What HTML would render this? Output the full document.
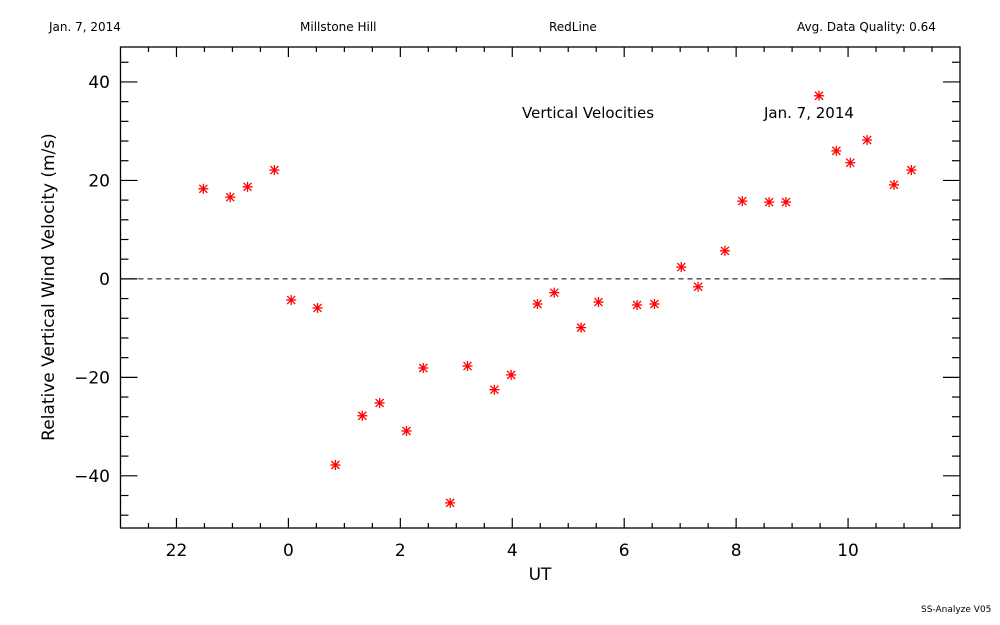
<!DOCTYPE html>
<html><head><meta charset="utf-8"><style>
body{margin:0;background:#fff}
svg{display:block;font-family:"DejaVu Sans","Liberation Sans",sans-serif}
</style></head><body>
<svg id="chart" width="1000" height="625" viewBox="0 0 1000 625">
<rect width="1000" height="625" fill="#fff"/>
<g font-size="12" fill="#000">
<text x="49" y="31">Jan. 7, 2014</text>
<text x="300" y="31">Millstone Hill</text>
<text x="549" y="31">RedLine</text>
<text x="797" y="31">Avg. Data Quality: 0.64</text>
<text x="921" y="612" font-size="9">SS-Analyze V05</text>
</g>
<text x="522" y="118" font-size="15">Vertical Velocities</text>
<text x="764" y="118" font-size="15">Jan. 7, 2014</text>
<g id="axes"></g>
<g id="marks"></g>
<text x="540" y="580" font-size="17" text-anchor="middle">UT</text>
<text transform="translate(54,287) rotate(-90)" font-size="17" text-anchor="middle">Relative Vertical Wind Velocity (m/s)</text>
</svg>
<script>
const hours=[-1.52,-1.04,-0.73,-0.25,0.05,0.52,0.84,1.32,1.63,2.11,2.41,2.89,3.20,3.68,3.98,4.45,4.75,5.23,5.54,6.23,6.54,7.02,7.32,7.80,8.11,8.59,8.89,9.48,9.79,10.04,10.34,10.82,11.13];
const velocities=[18.3,16.6,18.7,22.1,-4.3,-5.9,-37.8,-27.8,-25.2,-30.9,-18.1,-45.5,-17.7,-22.5,-19.5,-5.1,-2.8,-9.9,-4.7,-5.3,-5.1,2.4,-1.6,5.7,15.8,15.6,15.6,37.2,26.0,23.6,28.2,19.1,22.1];
const xTicks=[-2,0,2,4,6,8,10];
const xTickLabels=["22","0","2","4","6","8","10"];
const yTicks=[-40,-20,0,20,40];
const L=120.5,R=960,T=47,B=528,X0=-3,X1=12,Y0=-50.6,Y1=47.1;
const xs=v=>L+(v-X0)/(X1-X0)*(R-L);
const ys=v=>B-(v-Y0)/(Y1-Y0)*(B-T);
const NS="http://www.w3.org/2000/svg";
const ax=document.getElementById('axes'),mk=document.getElementById('marks');
function mkEl(t,a,p){const e=document.createElementNS(NS,t);for(const k in a)e.setAttribute(k,a[k]);p.appendChild(e);return e;}
const frame=mkEl('rect',{x:L,y:T,width:R-L,height:B-T,fill:'none',stroke:'#000','stroke-width':1.3},ax);


const zl=mkEl('line',{x1:L,x2:R,y1:ys(0),y2:ys(0),stroke:'#000','stroke-dasharray':'5,4'},ax);


for(let h=-2.5;h<=11.5;h+=0.5){
  const maj=xTicks.includes(h);const len=maj?10:5;const x=xs(h);
  const t1=mkEl('line',{x1:x,x2:x,y1:B,y2:B-len,stroke:'#000','stroke-width':1.2},ax);
  
  
  const t2=mkEl('line',{x1:x,x2:x,y1:T,y2:T+len,stroke:'#000','stroke-width':1.2},ax);
  
  
}
xTicks.forEach((h,i)=>{const t=mkEl('text',{x:xs(h),y:556,'font-size':17,'text-anchor':'middle'},ax);t.textContent=xTickLabels[i];
  
  });
for(let v=-48;v<=44;v+=4){
  const maj=yTicks.includes(v);const len=maj?17:8;const y=ys(v);
  const t1=mkEl('line',{x1:L,x2:L+len,y1:y,y2:y,stroke:'#000','stroke-width':1.2},ax);
  
  
  const t2=mkEl('line',{x1:R,x2:R-len,y1:y,y2:y,stroke:'#000','stroke-width':1.2},ax);
  
  
}
yTicks.forEach(v=>{const t=mkEl('text',{x:110,y:ys(v)+6,'font-size':17,'text-anchor':'end'},ax);t.textContent=v<0?'\u2212'+(-v):String(v);
  
  });
hours.forEach((h,i)=>{const x=xs(h),y=ys(velocities[i]);
  const g=mkEl('g',{stroke:'#f00','stroke-width':1.3},mk);
  
  
  mkEl('line',{x1:x-5,x2:x+5,y1:y,y2:y},g);
  mkEl('line',{x1:x,x2:x,y1:y-5,y2:y+5},g);
  mkEl('line',{x1:x-4,x2:x+4,y1:y-4,y2:y+4},g);
  mkEl('line',{x1:x-4,x2:x+4,y1:y+4,y2:y-4},g);
});
</script>
</body></html>
